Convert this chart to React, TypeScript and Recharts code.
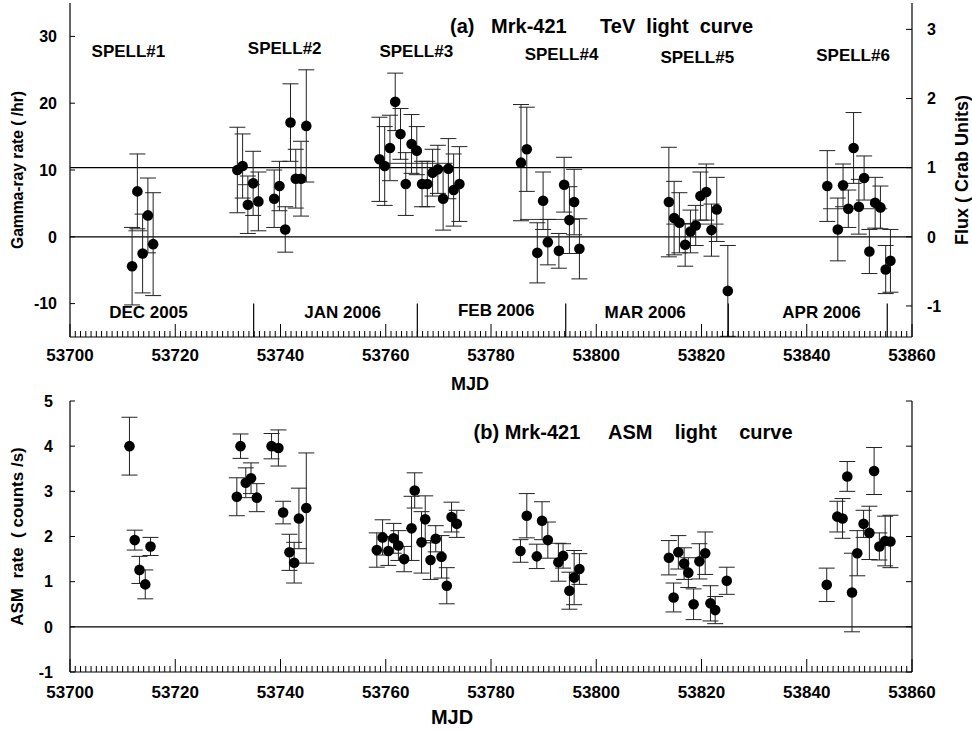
import React from "react";
import {
  ComposedChart,
  Scatter,
  XAxis,
  YAxis,
  ErrorBar,
  ReferenceLine,
  ReferenceDot,
} from "recharts";

const FONT = '"Liberation Sans", Arial, Helvetica, sans-serif';
const CRAB = 10.35; // gamma-ray rate (/hr) that equals 1 Crab unit

// (a) TeV light curve
const tevMjd = [
  53711.8, 53712.8, 53713.8, 53714.8, 53715.8,
  53731.8, 53732.8, 53733.8, 53734.8, 53735.8, 53738.8, 53739.8, 53740.9, 53741.9, 53742.9, 53743.9, 53744.9,
  53758.8, 53759.8, 53760.8, 53761.8, 53762.8, 53763.8, 53764.9, 53765.9, 53766.9, 53767.9, 53768.9, 53769.9,
  53770.9, 53771.9, 53772.9, 53774.0,
  53785.7, 53786.8, 53788.8, 53789.9, 53790.8, 53792.9, 53793.9, 53794.9, 53795.8, 53796.8,
  53813.8, 53814.8, 53815.8, 53816.9, 53817.9, 53818.9, 53819.8, 53820.9, 53821.9, 53822.9, 53825.0,
  53843.9, 53845.9, 53846.9, 53847.9, 53848.9, 53849.9, 53850.9, 53851.9, 53853.0, 53854.0, 53855.0, 53855.9,
];
const tevRate = [
  -4.4, 6.8, -2.5, 3.2, -1.1,
  10.0, 10.6, 4.8, 8.0, 5.3, 5.7, 7.6, 1.1, 17.1, 8.7, 8.7, 16.6,
  11.6, 10.6, 13.3, 20.2, 15.4, 7.9, 13.9, 12.9, 7.9, 7.9, 9.6, 10.1, 5.7, 10.2, 7.0, 7.9,
  11.1, 13.1, -2.4, 5.4, -0.8, -2.1, 7.8, 2.5, 5.2, -1.8,
  5.2, 2.8, 2.1, -1.2, 0.8, 1.7, 6.1, 6.7, 1.0, 4.1, -8.1,
  7.6, 1.1, 7.7, 4.2, 13.3, 4.5, 8.8, -2.2, 5.1, 4.4, -4.9, -3.6,
];
const tevErr = [
  5.8, 5.6, 5.9, 5.6, 7.7,
  6.4, 4.8, 4.3, 4.8, 4.4, 4.3, 3.7, 3.4, 5.8, 4.4, 5.6, 8.4,
  6.3, 5.9, 4.9, 4.3, 3.8, 4.7, 4.4, 3.6, 3.4, 3.4, 3.5, 3.6, 4.7, 4.5, 5.4, 5.6,
  8.7, 6.3, 4.5, 4.3, 3.4, 2.6, 4.1, 5.0, 4.9, 4.5,
  8.2, 5.5, 4.5, 3.2, 3.2, 3.0, 3.6, 4.2, 3.9, 4.8, 6.8,
  5.3, 4.7, 3.2, 2.8, 5.3, 4.1, 3.3, 3.3, 3.8, 3.2, 3.6, 4.7,
];

// (b) ASM light curve
const asmMjd = [
  53711.3, 53712.3, 53713.2, 53714.3, 53715.3,
  53731.7, 53732.4, 53733.4, 53734.4, 53735.5, 53738.3, 53739.6, 53740.5, 53741.7, 53742.6, 53743.5, 53744.9,
  53758.3, 53759.4, 53760.5, 53761.5, 53762.4, 53763.5, 53764.9, 53765.5, 53766.8, 53767.5, 53768.5, 53769.5,
  53770.6, 53771.6, 53772.5, 53773.5,
  53785.6, 53786.8, 53788.7, 53789.7, 53790.8, 53792.8, 53793.7, 53794.9, 53795.8, 53796.8,
  53813.8, 53814.7, 53815.6, 53816.7, 53817.5, 53818.5, 53819.6, 53820.7, 53821.7, 53822.6, 53824.8,
  53843.8, 53845.8, 53846.8, 53847.7, 53848.6, 53849.6, 53850.8, 53851.9, 53852.8, 53853.8, 53854.9, 53855.9,
];
const asmRate = [
  4.0, 1.92, 1.26, 0.94, 1.78,
  2.88, 4.0, 3.19, 3.29, 2.86, 4.0, 3.96, 2.53, 1.65, 1.42, 2.4, 2.63,
  1.7, 1.98, 1.68, 1.96, 1.8, 1.5, 2.18, 3.02, 1.87, 2.38, 1.48, 1.95, 1.55, 0.91, 2.43, 2.28,
  1.68, 2.46, 1.56, 2.35, 1.92, 1.43, 1.57, 0.8, 1.09, 1.28,
  1.53, 0.65, 1.65, 1.4, 1.2, 0.5, 1.45, 1.63, 0.52, 0.37, 1.02,
  0.93, 2.44, 2.4, 3.33, 0.76, 1.63, 2.28, 2.08, 3.45, 1.78, 1.9, 1.89,
];
const asmErr = [
  0.64, 0.22, 0.3, 0.32, 0.2,
  0.42, 0.27, 0.33, 0.34, 0.31, 0.28, 0.4, 0.25, 0.4, 0.45, 0.67, 1.22,
  0.38, 0.39, 0.32, 0.33, 0.33, 0.28, 0.71, 0.39, 0.68, 0.52, 0.43, 0.29, 0.47, 0.4, 0.33, 0.3,
  0.25, 0.49, 0.27, 0.42, 0.4, 0.42, 0.27, 0.41, 0.6, 0.34,
  0.38, 0.32, 0.37, 0.35, 0.33, 0.34, 0.39, 0.47, 0.39, 0.3, 0.3,
  0.37, 0.34, 0.44, 0.33, 0.87, 0.5, 0.3, 0.59, 0.52, 0.3, 0.55, 0.58,
];

// spell averages (a)
const spellAvgStart = [53711.1, 53731.9, 53758.9, 53785.5, 53813.3, 53843.1];
const spellAvgEnd = [53714.7, 53736.1, 53772.7, 53796.8, 53824.2, 53855.3];
const spellAvgRate = [0.9, 7.8, 11.0, 2.6, 1.9, 4.2];

// annotations
const spellNames = ["SPELL#1", "SPELL#2", "SPELL#3", "SPELL#4", "SPELL#5", "SPELL#6"];
const spellLabelMjd = [53711.1, 53740.8, 53765.8, 53793.4, 53819.2, 53848.8];
const spellLabelRate = [27.8, 28.2, 27.8, 27.3, 26.9, 27.2];
const monthNames = ["DEC 2005", "JAN 2006", "FEB 2006", "MAR 2006", "APR 2006"];
const monthLabelMjd = [53714.9, 53751.8, 53781.0, 53809.3, 53842.8];
const monthLabelRate = [-11.3, -11.2, -10.9, -11.3, -11.3];
const monthEdges = [53734.9, 53766.0, 53794.2, 53825.1, 53855.3];

const mjdLabels = [53700, 53720, 53740, 53760, 53780, 53800, 53820, 53840, 53860];
const tevTicks = [-10, 0, 10, 20, 30];
const crabTicks = [-1, 0, 1, 2, 3];
const asmTicks = [-1, 0, 1, 2, 3, 4, 5];
const minorTicks = Array.from({ length: 161 }, (_, i) => 53700 + i);

const tevData = tevMjd.map((x, i) => ({ x, y: tevRate[i], e: tevErr[i] }));
const asmData = asmMjd.map((x, i) => ({ x, y: asmRate[i], e: asmErr[i] }));

const boldText = { fontFamily: FONT, fontWeight: 700, fill: "#000" };

const xTick = (dir: number, labelDy: number | null) => (p: any) => {
  const v = p.payload.value;
  const major = mjdLabels.includes(v);
  return (
    <g>
      <line x1={p.x} x2={p.x} y1={p.y} y2={p.y + dir * (major ? 13 : 6)} stroke="#000" strokeWidth={1} />
      {labelDy !== null && major && (
        <text x={p.x} y={p.y + labelDy} textAnchor="middle" fontSize={17} {...boldText}>
          {v}
        </text>
      )}
    </g>
  );
};

const leftTick = (gap: number) => (p: any) => (
  <g>
    <line x1={p.x} x2={p.x + 5} y1={p.y} y2={p.y} stroke="#000" strokeWidth={1} />
    <text x={p.x - gap} y={p.y} dy="0.36em" textAnchor="end" fontSize={16} {...boldText}>
      {p.payload.value}
    </text>
  </g>
);

const rightTick = (showLabel: boolean) => (p: any) => (
  <g>
    <line x1={p.x} x2={p.x - 6} y1={p.y} y2={p.y} stroke="#000" strokeWidth={1} />
    {showLabel && (
      <text x={p.x + 15} y={p.y} dy="0.36em" textAnchor="start" fontSize={16} {...boldText}>
        {p.payload.value}
      </text>
    )}
  </g>
);

const vLabel = (text: string, cx: number, size: number, len?: number) => (props: any) => {
  const vb = props.viewBox;
  const cy = vb.y + vb.height / 2;
  return (
    <text
      x={cx}
      y={cy}
      transform={`rotate(-90 ${cx} ${cy})`}
      textAnchor="middle"
      dy="0.36em"
      fontSize={size}
      textLength={len}
      lengthAdjust={len ? "spacingAndGlyphs" : undefined}
      {...boldText}
    >
      {text}
    </text>
  );
};

const hLabel = (text: string, cx: number, dy: number, size: number) => (props: any) => {
  const vb = props.viewBox;
  return (
    <text x={cx} y={vb.y + dy} textAnchor="middle" fontSize={size} {...boldText}>
      {text}
    </text>
  );
};

const dot = (p: any) => <circle cx={p.cx} cy={p.cy} r={5.3} fill="#000" />;

const axisLine = { stroke: "#000", strokeWidth: 1.2 };
const noTick = { tickLine: false, tickSize: 0, tickMargin: 0, interval: 0 as const };

const App = () => {
  return (
    <div style={{ position: "absolute", left: 0, top: 0, width: 972, height: 731, background: "#fff" }}>
      <div style={{ position: "absolute", left: 0, top: 0 }}>
        <ComposedChart width={972} height={395} margin={{ top: 3, right: 0, bottom: 0, left: 0 }}>
          <XAxis
            dataKey="x"
            type="number"
            domain={[53700, 53860]}
            ticks={minorTicks}
            allowDataOverflow
            height={58}
            axisLine={axisLine}
            tick={xTick(-1, 24)}
            label={hLabel("MJD", 470, 53, 18)}
            {...noTick}
          />
          <XAxis
            xAxisId="top"
            orientation="top"
            dataKey="x"
            type="number"
            domain={[53700, 53860]}
            ticks={minorTicks}
            allowDataOverflow
            height={0}
            axisLine={axisLine}
            tick={xTick(1, null)}
            {...noTick}
          />
          <YAxis
            type="number"
            domain={[-15, 35]}
            ticks={tevTicks}
            allowDataOverflow
            width={70}
            axisLine={axisLine}
            tick={leftTick(13)}
            label={vLabel("Gamma-ray rate ( /hr)", 17, 17, 158)}
            {...noTick}
          />
          <YAxis
            yAxisId="r"
            orientation="right"
            type="number"
            domain={[-15 / CRAB, 35 / CRAB]}
            ticks={crabTicks}
            allowDataOverflow
            width={60}
            axisLine={axisLine}
            tick={rightTick(true)}
            label={vLabel("Flux ( Crab Units)", 962, 18)}
            {...noTick}
          />
          <ReferenceLine y={0} stroke="#000" strokeWidth={1.2} />
          <ReferenceLine y={CRAB} stroke="#000" strokeWidth={1.2} />
          {spellAvgRate.map((v, i) => (
            <ReferenceLine
              key={`avg${i}`}
              segment={[
                { x: spellAvgStart[i], y: v },
                { x: spellAvgEnd[i], y: v },
              ]}
              stroke="#333"
              strokeWidth={1}
            />
          ))}
          {monthEdges.map((m, i) => (
            <ReferenceLine
              key={`edge${i}`}
              segment={[
                { x: m, y: -10 },
                { x: m, y: -15 },
              ]}
              stroke="#000"
              strokeWidth={1.2}
            />
          ))}
          {spellNames.map((s, i) => (
            <ReferenceDot
              key={s}
              x={spellLabelMjd[i]}
              y={spellLabelRate[i]}
              r={0}
              fill="none"
              stroke="none"
              label={{ value: s, position: "center", fontSize: 17, ...boldText }}
            />
          ))}
          {monthNames.map((s, i) => (
            <ReferenceDot
              key={s}
              x={monthLabelMjd[i]}
              y={monthLabelRate[i]}
              r={0}
              fill="none"
              stroke="none"
              label={{ value: s, position: "center", fontSize: 17, ...boldText }}
            />
          ))}
          <ReferenceDot
            x={53801}
            y={31.5}
            r={0}
            fill="none"
            stroke="none"
            label={{
              value: "(a)\u00A0\u00A0\u00A0Mrk-421\u00A0\u00A0\u00A0\u00A0\u00A0\u00A0TeV\u00A0\u00A0light\u00A0\u00A0curve",
              position: "center",
              fontSize: 20,
              ...boldText,
            }}
          />
          <Scatter data={tevData} dataKey="y" isAnimationActive={false} shape={dot}>
            <ErrorBar dataKey="e" direction="y" width={8} stroke="#222" strokeWidth={1} />
          </Scatter>
        </ComposedChart>
      </div>

      <div style={{ position: "absolute", left: 0, top: 380 }}>
        <ComposedChart width={972} height={351} margin={{ top: 21, right: 0, bottom: 0, left: 0 }}>
          <XAxis
            dataKey="x"
            type="number"
            domain={[53700, 53860]}
            ticks={minorTicks}
            allowDataOverflow
            height={59}
            axisLine={axisLine}
            tick={xTick(-1, 26)}
            label={hLabel("MJD", 452, 52, 20)}
            {...noTick}
          />
          <XAxis
            xAxisId="top"
            orientation="top"
            dataKey="x"
            type="number"
            domain={[53700, 53860]}
            ticks={minorTicks}
            allowDataOverflow
            height={0}
            axisLine={axisLine}
            tick={xTick(1, null)}
            {...noTick}
          />
          <YAxis
            type="number"
            domain={[-1, 5]}
            ticks={asmTicks}
            allowDataOverflow
            width={70}
            axisLine={axisLine}
            tick={leftTick(17)}
            label={vLabel("ASM\u00A0\u00A0rate\u00A0\u00A0( counts /s)", 17, 17)}
            {...noTick}
          />
          <YAxis
            yAxisId="r"
            orientation="right"
            type="number"
            domain={[-1, 5]}
            ticks={asmTicks}
            allowDataOverflow
            width={60}
            axisLine={axisLine}
            tick={rightTick(false)}
            {...noTick}
          />
          <ReferenceLine y={0} stroke="#000" strokeWidth={1.2} />
          <ReferenceDot
            x={53807}
            y={4.31}
            r={0}
            fill="none"
            stroke="none"
            label={{
              value: "(b)\u00A0Mrk-421\u00A0\u00A0\u00A0\u00A0\u00A0ASM\u00A0\u00A0\u00A0\u00A0light\u00A0\u00A0\u00A0\u00A0curve",
              position: "center",
              fontSize: 20,
              ...boldText,
            }}
          />
          <Scatter data={asmData} dataKey="y" isAnimationActive={false} shape={dot}>
            <ErrorBar dataKey="e" direction="y" width={8} stroke="#222" strokeWidth={1} />
          </Scatter>
        </ComposedChart>
      </div>
    </div>
  );
};

export default App;
